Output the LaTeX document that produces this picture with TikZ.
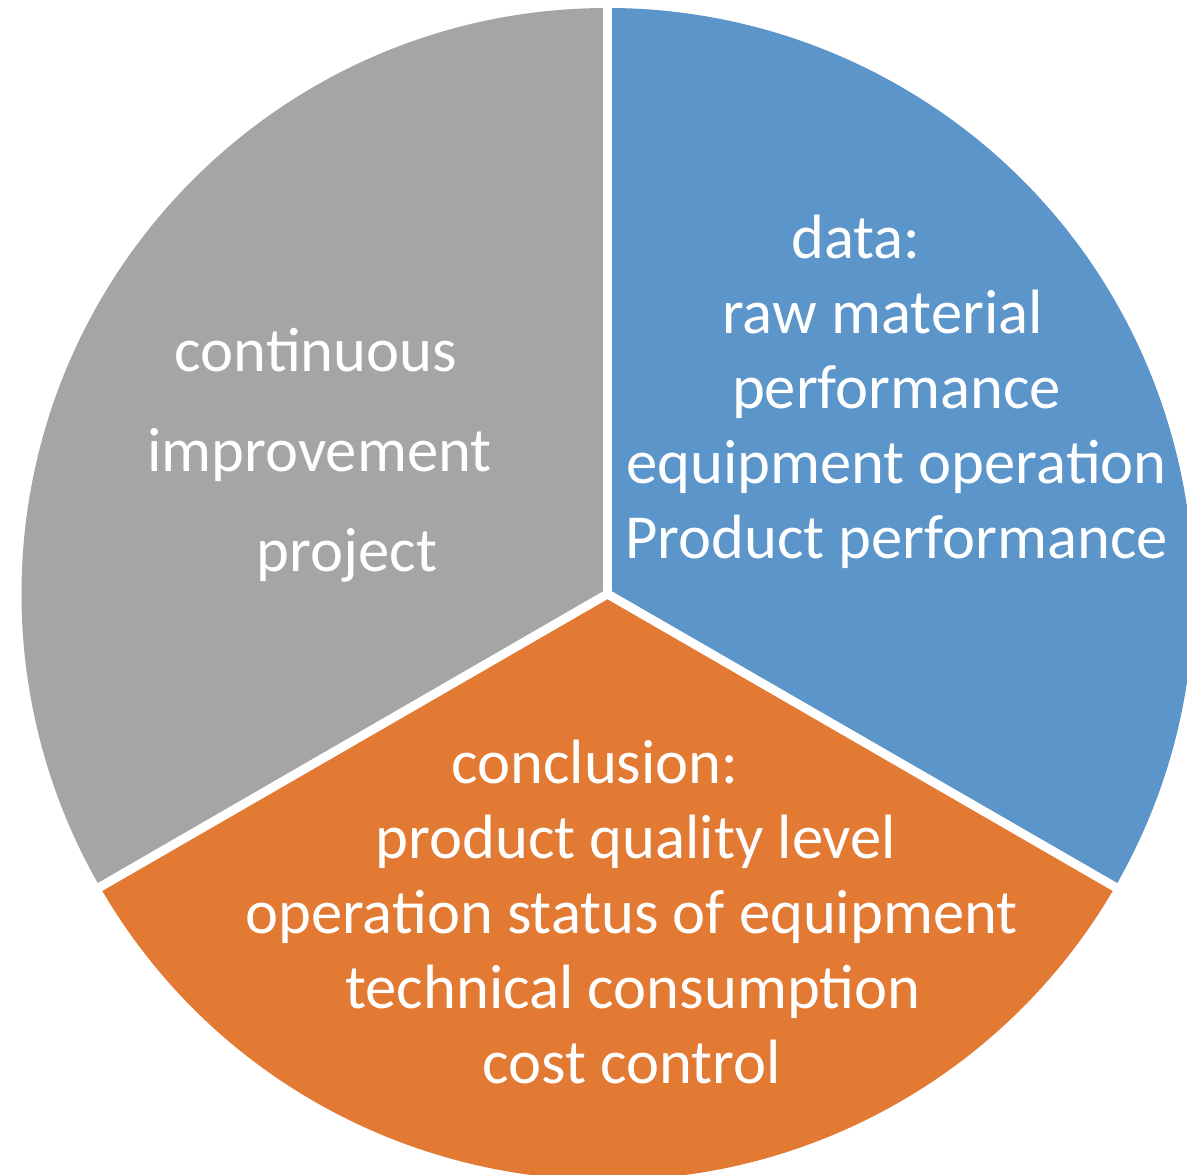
\documentclass[tikz,border=0pt]{standalone}
\usepackage{fontspec}
\setmainfont{Carlito}
\usetikzlibrary{calc}
\definecolor{pgray}{HTML}{A5A5A5}
\definecolor{pblue}{HTML}{5B95C9}
\definecolor{porange}{HTML}{E27A34}
\tikzset{
  lbl/.style={text=white, anchor=base, inner sep=0pt, font=\fontsize{62.6}{75}\selectfont},
  sep/.style={draw=white, line width=9pt}
}
\begin{document}
\begin{tikzpicture}[x=1pt,y=1pt]
\useasboundingbox (0,0) rectangle (1187,1175);
\clip (0,0) rectangle (1187,1175);
\fill[white] (0,0) rectangle (1187,1175);
\coordinate (C) at (607.5,581);
\def\R{586}
\fill[pgray] (C) -- ++(90:\R) arc[start angle=90, end angle=210, radius=\R] -- cycle;
\fill[porange] (C) -- ++(210:\R) arc[start angle=210, end angle=330, radius=\R] -- cycle;
\fill[pblue] (C) -- ++(-30:\R) arc[start angle=-30, end angle=90, radius=\R] -- cycle;
\coordinate (e1) at ($(C)+(90:620)$);
\coordinate (e2) at ($(C)+(210:620)$);
\coordinate (e3) at ($(C)+(330:620)$);
\draw[sep] (C) -- (e1);
\draw[sep] (C) -- (e2);
\draw[sep] (C) -- (e3);
% gray sector
\node[lbl] (g1) at (316,803.5) {continuous};
\node[lbl] (g2) at (319.5,703.5) {improvement};
\node[lbl] (g3) at (347,603.5) {project};
% blue sector
\node[lbl] (b1) at (856,916.8) {data:};
\node[lbl] (b2) at (882.5,841.8) {raw material};
\node[lbl] (b3) at (896.5,766.8) {performance};
\node[lbl] (b4) at (896.5,691.8) {equipment operation};
\node[lbl] (b5) at (896.5,616.8) {Product performance};
% orange sector
\node[lbl] (o1) at (595,391.8) {conclusion:};
\node[lbl] (o2) at (636,316.8) {product quality level};
\node[lbl] (o3) at (631.5,241.8) {operation status of equipment};
\node[lbl] (o4) at (633,166.8) {technical consumption};
\node[lbl] (o5) at (632,91.8) {cost control};
\end{tikzpicture}
\end{document}
